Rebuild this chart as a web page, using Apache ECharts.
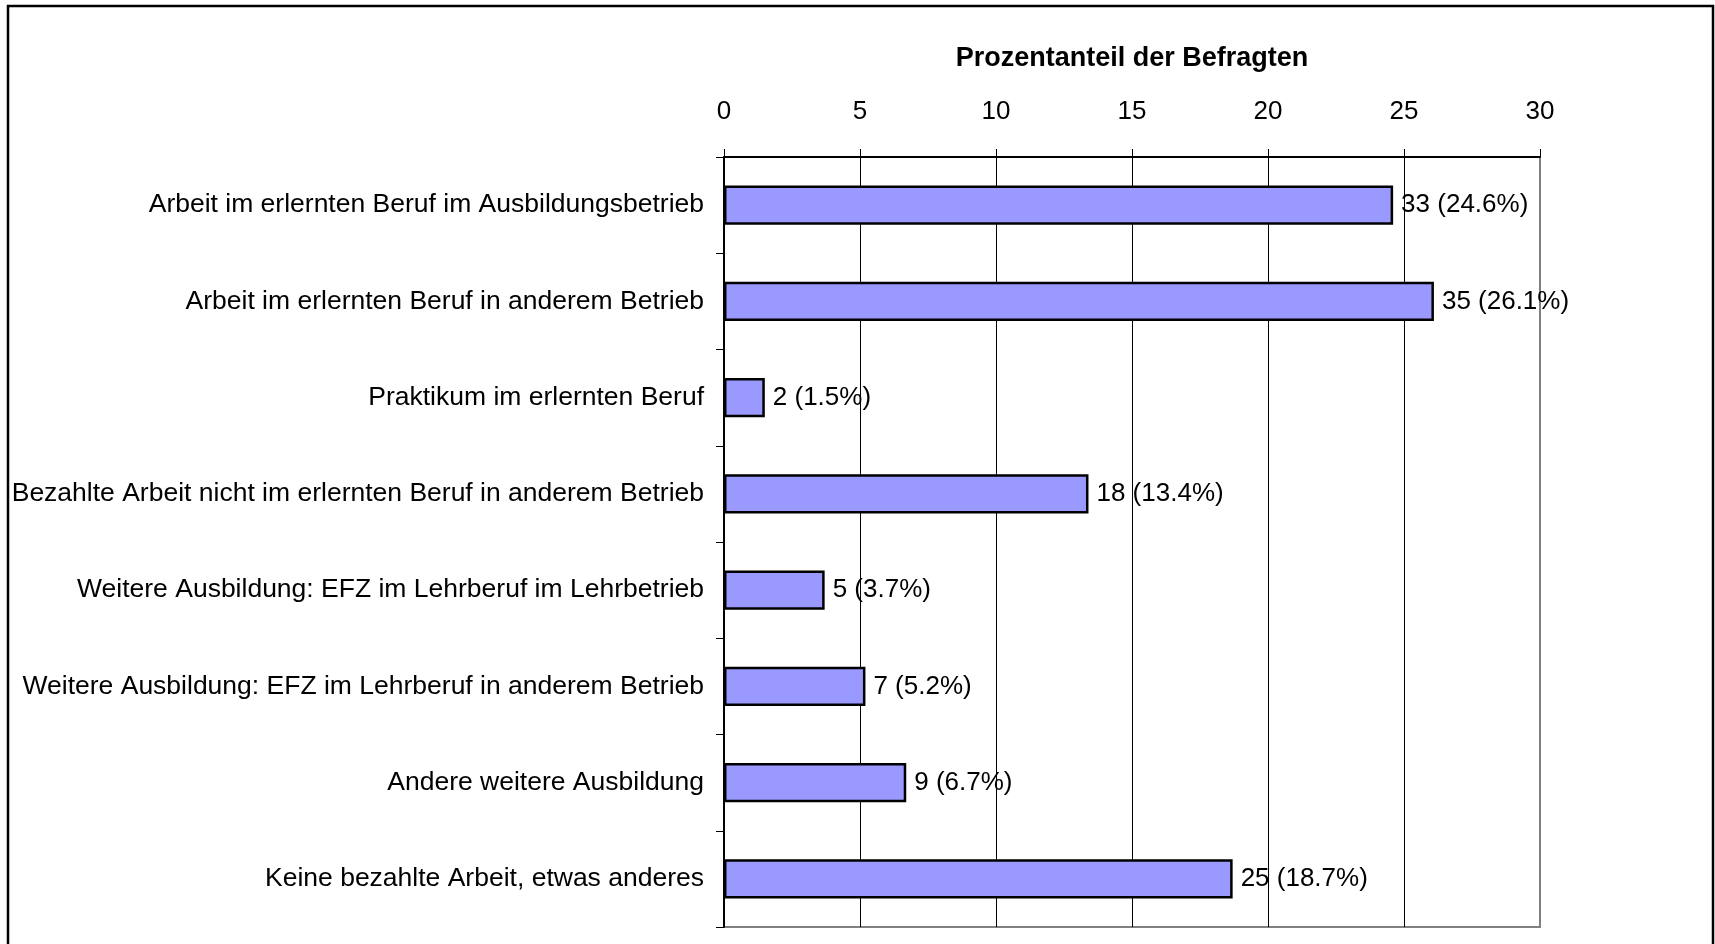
<!DOCTYPE html>
<html>
<head>
<meta charset="utf-8">
<script src="https://cdn.jsdelivr.net/npm/echarts@6/dist/echarts.min.js"></script>
<style>
	html, body { margin: 0; padding: 0; background: #fff; }
	#chart { width: 1715px; height: 944px; }
</style>
</head>
<body>
<div id="chart"></div>
<script>
// Kategorien (von oben nach unten)
var categories = [
	'Arbeit im erlernten Beruf im Ausbildungsbetrieb',
	'Arbeit im erlernten Beruf in anderem Betrieb',
	'Praktikum im erlernten Beruf',
	'Bezahlte Arbeit nicht im erlernten Beruf in anderem Betrieb',
	'Weitere Ausbildung: EFZ im Lehrberuf im Lehrbetrieb',
	'Weitere Ausbildung: EFZ im Lehrberuf in anderem Betrieb',
	'Andere weitere Ausbildung',
	'Keine bezahlte Arbeit, etwas anderes'
];
// Prozentanteil
var percents = [24.6, 26.1, 1.5, 13.4, 3.7, 5.2, 6.7, 18.7];
// Anzahl
var counts = [33, 35, 2, 18, 5, 7, 9, 25];
var axisTitle = 'Prozentanteil der Befragten';

var FONT = '"Liberation Sans Narrow", "Liberation Sans", Arial, sans-serif';

var chart = echarts.init(document.getElementById('chart'));

var option = {
	backgroundColor: '#fff',
	animation: false,
	graphic: [{
		type: 'rect',
		shape: { x: 8, y: 6, width: 1705, height: 1000 },
		style: { fill: 'none', stroke: '#000', lineWidth: 2.5 },
		silent: true
	}],
	grid: {
		left: 724,
		right: 175,
		top: 157,
		bottom: 17,
		show: true,
		borderColor: '#808080',
		borderWidth: 2,
		backgroundColor: 'transparent'
	},
	xAxis: {
		type: 'value',
		position: 'top',
		min: 0,
		max: 30,
		interval: 5,
		name: axisTitle,
		nameLocation: 'middle',
		nameGap: 85,
		nameTextStyle: {
			fontFamily: FONT,
			fontWeight: 'bold',
			fontSize: 27,
			color: '#000'
		},
		axisLine: { show: true, lineStyle: { color: '#000', width: 2 } },
		axisTick: { show: true, inside: false, length: 8, lineStyle: { color: '#000' } },
		axisLabel: {
			fontFamily: FONT,
			fontSize: 26,
			color: '#000',
			margin: 32
		},
		splitLine: {
			show: true,
			lineStyle: {
				color: ['#000', '#000', '#000', '#000', '#000', '#000', '#808080'],
				width: 1
			}
		}
	},
	yAxis: {
		type: 'category',
		data: categories,
		inverse: true,
		axisLine: { show: true, lineStyle: { color: '#000', width: 2 } },
		axisTick: { show: true, length: 8, lineStyle: { color: '#000' } },
		axisLabel: {
			fontFamily: FONT,
			fontSize: 26.5,
			color: '#000',
			margin: 20
		},
		splitLine: { show: false }
	},
	series: [{
		type: 'bar',
		data: percents,
		barWidth: '41%',
		itemStyle: {
			color: '#9999ff',
			borderColor: '#000',
			borderWidth: 2.5
		},
		label: {
			show: true,
			position: 'right',
			distance: 8,
			fontFamily: FONT,
			fontSize: 26,
			color: '#000',
			formatter: function (p) {
				return counts[p.dataIndex] + ' (' + percents[p.dataIndex].toFixed(1) + '%)';
			}
		}
	}]
};

chart.setOption(option);
</script>
</body>
</html>
